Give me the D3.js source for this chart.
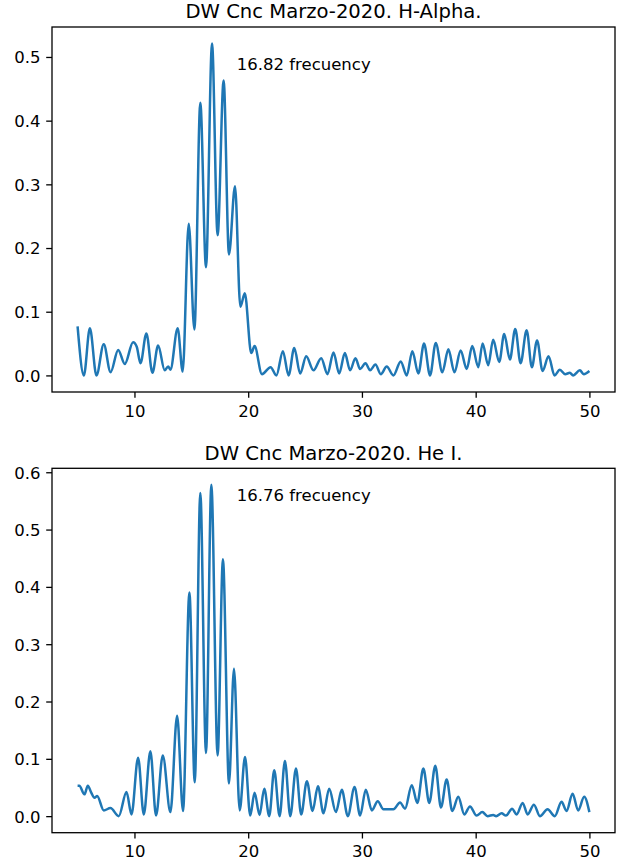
<!DOCTYPE html>
<html>
<head>
<meta charset="utf-8">
<script src="https://cdn.jsdelivr.net/npm/d3@7"></script>
<style>
  html, body { margin: 0; padding: 0; background: #fff; }
  svg { display: block; font-family: "DejaVu Sans", sans-serif; }
</style>
</head>
<body>
<svg id="chart" width="621" height="866"></svg>
<script>
// Periodogram of DW Cnc, March 2020: power vs. frequency for two lines.
const haFreq = [5.0, 5.55, 6.08, 6.66, 7.3, 7.9, 8.57, 9.15, 9.88, 10.2, 10.53, 11.05, 11.58, 12.08, 12.66, 12.96, 13.16, 13.8, 14.24, 14.77, 15.27, 15.79, 16.29, 16.82, 17.31, 17.84, 18.31, 18.84, 19.31, 19.7, 20.27, 20.56, 21.21, 21.97, 22.48, 23.05, 23.55, 24.05, 24.57, 25.1, 25.74, 26.42, 26.97, 27.5, 28.0, 28.5, 28.96, 29.43, 29.84, 30.31, 30.72, 31.19, 31.66, 32.18, 32.77, 33.41, 33.94, 34.43, 34.96, 35.46, 35.99, 36.49, 37.07, 37.6, 38.13, 38.68, 39.21, 39.7, 40.23, 40.61, 41.1, 41.54, 42.07, 42.51, 43.01, 43.48, 43.95, 44.48, 44.94, 45.4, 45.88, 46.41, 46.93, 47.4, 47.87, 48.28, 48.57, 49.16, 49.5, 50.0];
const haPower = [0.077, 0.0, 0.074, 0.0, 0.049, 0.005, 0.040, 0.018, 0.052, 0.045, 0.019, 0.066, 0.004, 0.047, 0.008, 0.014, 0.009, 0.074, 0.006, 0.238, 0.072, 0.428, 0.170, 0.521, 0.220, 0.463, 0.190, 0.297, 0.108, 0.129, 0.035, 0.046, 0.002, 0.013, 0.0, 0.038, 0.0, 0.043, 0.003, 0.030, 0.008, 0.027, 0.002, 0.036, 0.003, 0.035, 0.008, 0.027, 0.010, 0.019, 0.008, 0.017, 0.002, 0.014, 0.0, 0.022, 0.0, 0.038, 0.003, 0.050, 0.0, 0.051, 0.005, 0.041, 0.005, 0.039, 0.010, 0.046, 0.013, 0.050, 0.016, 0.056, 0.021, 0.065, 0.025, 0.073, 0.019, 0.071, 0.013, 0.055, 0.007, 0.030, 0.0, 0.009, 0.002, 0.004, 0.0, 0.008, 0.002, 0.007];

const heFreq = [5.0, 5.15, 5.6, 5.9, 6.2, 6.49, 6.72, 7.3, 7.89, 8.62, 9.3, 9.74, 10.32, 10.82, 11.4, 11.9, 12.49, 13.16, 13.75, 14.27, 14.83, 15.3, 15.79, 16.29, 16.76, 17.31, 17.78, 18.31, 18.75, 19.25, 19.72, 20.18, 20.56, 21.0, 21.41, 21.85, 22.29, 22.76, 23.23, 23.7, 24.2, 24.66, 25.16, 25.66, 26.13, 26.62, 27.12, 27.71, 28.23, 28.76, 29.35, 29.84, 30.34, 30.87, 31.39, 31.89, 32.77, 33.35, 33.79, 34.38, 34.87, 35.4, 35.92, 36.45, 36.95, 37.45, 37.94, 38.47, 39.0, 39.5, 40.08, 40.58, 41.05, 41.54, 41.8, 42.28, 42.66, 43.21, 43.6, 44.13, 44.57, 45.12, 45.65, 46.32, 46.96, 47.55, 47.99, 48.52, 49.01, 49.54, 50.0];
const hePower = [0.053, 0.053, 0.038, 0.053, 0.041, 0.032, 0.035, 0.010, 0.014, 0.0, 0.042, 0.003, 0.102, 0.003, 0.113, 0.001, 0.106, 0.007, 0.175, 0.009, 0.390, 0.059, 0.564, 0.110, 0.578, 0.106, 0.448, 0.057, 0.257, 0.010, 0.103, 0.001, 0.041, 0.002, 0.048, 0.0, 0.080, 0.0, 0.096, 0.0, 0.083, 0.003, 0.061, 0.009, 0.052, 0.005, 0.048, 0.007, 0.046, 0.0, 0.051, 0.001, 0.046, 0.010, 0.026, 0.012, 0.012, 0.024, 0.013, 0.054, 0.023, 0.083, 0.023, 0.088, 0.015, 0.064, 0.009, 0.034, 0.003, 0.017, 0.001, 0.007, 0.0, 0.002, 0.0, 0.005, 0.001, 0.013, 0.003, 0.023, 0.003, 0.020, 0.0, 0.012, 0.0, 0.025, 0.009, 0.039, 0.010, 0.034, 0.007];

const panelTitles = ["DW Cnc Marzo-2020. H-Alpha.", "DW Cnc Marzo-2020. He I."];
const peakFreqs = [16.82, 16.76];
const peakLabelPos = [[19.0, 0.48], [19.0, 0.55]];
const xTicks = [10, 20, 30, 40, 50];
const yTicksHa = [0.0, 0.1, 0.2, 0.3, 0.4, 0.5];
const yTicksHe = [0.0, 0.1, 0.2, 0.3, 0.4, 0.5, 0.6];

const svg = d3.select("#chart");
const LINE = "#1f77b4";
const TICK = 5.8, PAD = 5.8;

const panels = [
  { freq: haFreq, power: haPower, title: panelTitles[0], peak: peakFreqs[0], label: peakLabelPos[0], yTicks: yTicksHa, top: 27, bottom: 392 },
  { freq: heFreq, power: hePower, title: panelTitles[1], peak: peakFreqs[1], label: peakLabelPos[1], yTicks: yTicksHe, top: 468.3, bottom: 832.7 }
];
const left = 52, right = 615;

// matplotlib-style 5% margins around the data extent
function padded(ext) {
  const d = (ext[1] - ext[0]) * 0.05;
  return [ext[0] - d, ext[1] + d];
}

panels.forEach(p => {
  const pts = p.freq.map((f, i) => ({ f, v: p.power[i] }));
  const x = d3.scaleLinear().domain(padded(d3.extent(p.freq))).range([left, right]);
  const y = d3.scaleLinear().domain(padded(d3.extent(p.power))).range([p.bottom, p.top]);

  const g = svg.append("g");

  // periodogram curve
  g.append("path")
    .datum(pts)
    .attr("fill", "none")
    .attr("stroke", LINE)
    .attr("stroke-width", 2.5)
    .attr("stroke-linejoin", "round")
    .attr("d", d3.line().x(d => x(d.f)).y(d => y(d.v)).curve(d3.curveMonotoneX));

  // x axis
  const xa = g.append("g").attr("transform", `translate(0,${p.bottom})`)
    .call(d3.axisBottom(x).tickValues(xTicks).tickFormat(d3.format("d")).tickSize(TICK).tickPadding(PAD));
  // y axis
  const ya = g.append("g").attr("transform", `translate(${left},0)`)
    .call(d3.axisLeft(y).tickValues(p.yTicks).tickFormat(d3.format(".1f")).tickSize(TICK).tickPadding(PAD));

  [xa, ya].forEach(a => {
    a.select(".domain").remove();
    a.selectAll(".tick line").attr("stroke", "#000").attr("stroke-width", 1.3);
    a.selectAll(".tick text").attr("fill", "#000").attr("font-size", "16.5px")
      .attr("font-family", "DejaVu Sans, sans-serif");
  });
  xa.selectAll(".tick text").attr("dy", null).attr("y", 24.6);
  ya.selectAll(".tick text").attr("dy", "0.36em");

  // frame
  g.append("rect")
    .attr("x", left).attr("y", p.top)
    .attr("width", right - left).attr("height", p.bottom - p.top)
    .attr("fill", "none").attr("stroke", "#000").attr("stroke-width", 1.3);

  // title
  g.append("text")
    .attr("x", (left + right) / 2).attr("y", p.top - 8.8)
    .attr("text-anchor", "middle")
    .attr("font-size", "19.6px").attr("fill", "#000")
    .text(p.title);

  // dominant frequency annotation
  g.append("text")
    .attr("x", x(p.label[0])).attr("y", y(p.label[1]))
    .attr("font-size", "16.5px").attr("fill", "#000")
    .text(`${p.peak.toFixed(2)} frecuency`);
});
</script>
</body>
</html>
